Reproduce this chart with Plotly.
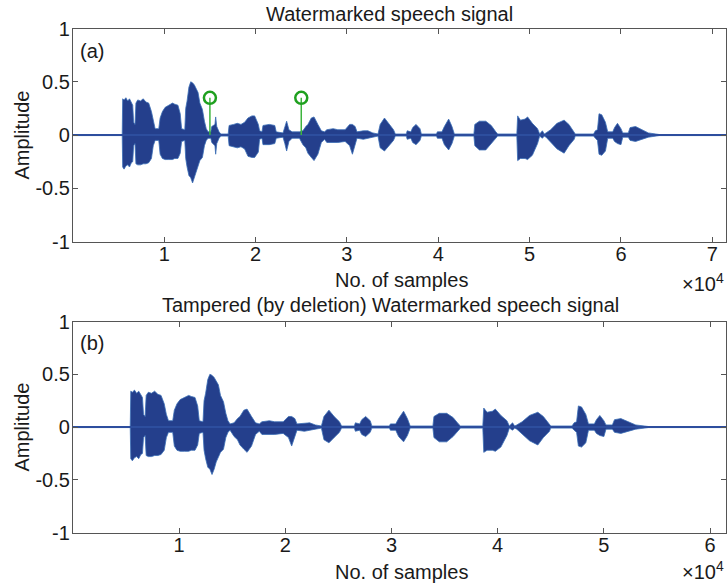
import plotly.graph_objects as go

# ---------------- data ----------------
# envelope of the watermarked speech signal (a): sample index, upper and lower amplitude
TOP_X = [0, 5400, 5450, 5600, 5800, 6000, 6200, 6400, 6550, 6650, 6800, 6900, 7100, 7400,
         7700, 8000, 8300, 8600, 8800, 9000, 9400, 9550, 9800, 10100, 10500, 10900, 11150,
         11500, 11750, 11900, 12250, 12350, 12500, 12700, 12900, 13100, 13300, 13500, 13700,
         13900, 14180, 14400, 14600, 14800, 15100, 15200, 15550, 15630, 15750, 16000, 16200,
         17000, 17100, 17600, 18000, 18400, 18800, 19170, 19600, 19900, 20300, 20440, 20700,
         20810, 21500, 22100, 22260, 23000, 23200, 23400, 23650, 24000, 24800, 25180, 25500,
         25730, 26100, 26400, 26820, 27200, 27550, 27800, 28500, 29000, 29800, 30300, 30600,
         30900, 31100, 31800, 32300, 32830, 33400, 33640, 34110, 34600, 35100, 35300, 36500,
         36600, 37000, 37200, 37570, 38000, 38150, 39800, 39900, 40400, 40670, 41140, 41500,
         41760, 43900, 44000, 44500, 45200, 45800, 46300, 46500, 48600, 48690, 49000, 49500,
         49780, 50300, 50870, 51100, 51400, 51600, 51800, 52300, 53000, 53780, 54300, 54880,
         55000, 57000, 57200, 57430, 57600, 57900, 58300, 58550, 59100, 59300, 59620, 60000,
         60200, 60800, 61000, 61600, 62350, 63000, 64200, 71500]
TOP_UP = [0.005, 0.005, 0.34, 0.33, 0.35, 0.32, 0.34, 0.30, 0.28, 0.12, 0.10, 0.30, 0.33, 0.32,
          0.34, 0.31, 0.30, 0.22, 0.12, 0.06, 0.06, 0.16, 0.22, 0.26, 0.28, 0.30, 0.29,
          0.28, 0.20, 0.06, 0.05, 0.25, 0.32, 0.45, 0.50, 0.49, 0.47, 0.44, 0.40,
          0.30, 0.24, 0.13, 0.06, 0.03, 0.03, 0.08, 0.10, 0.17, 0.08, 0.03, 0.01,
          0.01, 0.09, 0.10, 0.11, 0.10, 0.12, 0.16, 0.18, 0.18, 0.10, 0.04, 0.03,
          0.09, 0.10, 0.09, 0.03, 0.02, 0.08, 0.13, 0.05, 0.03, 0.03, 0.04, 0.08,
          0.10, 0.16, 0.17, 0.10, 0.04, 0.03, 0.05, 0.06, 0.05, 0.05, 0.10, 0.10,
          0.08, 0.03, 0.04, 0.04, 0.02, 0.01, 0.10, 0.16, 0.10, 0.05, 0.01, 0.01,
          0.04, 0.03, 0.07, 0.10, 0.06, 0.01, 0.01, 0.03, 0.03, 0.08, 0.15, 0.08,
          0.01, 0.01, 0.10, 0.13, 0.13, 0.09, 0.03, 0.01, 0.01, 0.18, 0.14, 0.15,
          0.17, 0.11, 0.06, 0.01, 0.04, 0.01, 0.02, 0.05, 0.11, 0.14, 0.10, 0.02,
          0.01, 0.01, 0.04, 0.05, 0.20, 0.19, 0.12, 0.03, 0.03, 0.07, 0.11, 0.06,
          0.02, 0.02, 0.07, 0.08, 0.05, 0.02, 0.005, 0.005]
TOP_LO = [-0.005, -0.005, -0.30, -0.32, -0.29, -0.28, -0.30, -0.26, -0.25, -0.10, -0.08, -0.27, -0.28, -0.28,
          -0.27, -0.27, -0.26, -0.22, -0.10, -0.05, -0.05, -0.18, -0.22, -0.23, -0.23, -0.23, -0.22,
          -0.22, -0.17, -0.06, -0.05, -0.22, -0.30, -0.38, -0.40, -0.45, -0.40, -0.33, -0.29,
          -0.24, -0.21, -0.10, -0.05, -0.03, -0.03, -0.07, -0.10, -0.18, -0.08, -0.03, -0.01,
          -0.01, -0.10, -0.11, -0.12, -0.11, -0.13, -0.20, -0.21, -0.21, -0.16, -0.04, -0.03,
          -0.09, -0.09, -0.08, -0.03, -0.02, -0.08, -0.15, -0.06, -0.03, -0.03, -0.09, -0.12,
          -0.17, -0.21, -0.24, -0.18, -0.07, -0.04, -0.07, -0.07, -0.07, -0.06, -0.10, -0.18,
          -0.10, -0.03, -0.04, -0.03, -0.02, -0.01, -0.12, -0.15, -0.10, -0.05, -0.01, -0.01,
          -0.04, -0.03, -0.07, -0.09, -0.05, -0.01, -0.01, -0.03, -0.03, -0.09, -0.14, -0.08,
          -0.01, -0.01, -0.10, -0.14, -0.14, -0.09, -0.03, -0.01, -0.01, -0.24, -0.22, -0.22,
          -0.23, -0.19, -0.08, -0.01, -0.03, -0.01, -0.02, -0.06, -0.13, -0.17, -0.10, -0.04,
          -0.01, -0.01, -0.03, -0.05, -0.18, -0.19, -0.15, -0.03, -0.03, -0.06, -0.08, -0.09,
          -0.02, -0.02, -0.05, -0.06, -0.04, -0.02, -0.005, -0.005]

# watermark positions marked in (a)
MARK_X = [15000, 25000]
MARK_Y = [0.35, 0.35]

# tampering: samples between the two marks were deleted
DEL_START, DEL_END = 15000, 25000

TOP_XMAX = 71500
BOT_XMAX = 61500

X_TICKVALS = [10000, 20000, 30000, 40000, 50000, 60000, 70000]
X_TICKTEXT = ["1", "2", "3", "4", "5", "6", "7"]
Y_TICKVALS = [-1, -0.5, 0, 0.5, 1]
Y_TICKTEXT = ["-1", "-0.5", "0", "0.5", "1"]

TITLE_A = "Watermarked speech signal"
TITLE_B = "Tampered (by deletion) Watermarked speech signal"
XLABEL = "No. of samples"
YLABEL = "Amplitude"

# bottom signal = top signal with the marked segment removed
BOT_X, BOT_UP, BOT_LO = [], [], []
for x, u, l in zip(TOP_X, TOP_UP, TOP_LO):
    if x < DEL_START:
        BOT_X.append(x); BOT_UP.append(u); BOT_LO.append(l)
    elif x >= DEL_END:
        BOT_X.append(x - (DEL_END - DEL_START)); BOT_UP.append(u); BOT_LO.append(l)

# ---------------- figure ----------------
W, H = 727, 584
# vertical placement: the rendered paper spans ~562 px starting ~11.5 px from the top
PAPER_TOP, PAPER_H = 11.45, 562.0

def py(y_px):
    return 1 - (y_px - PAPER_TOP) / PAPER_H

def px(x_px):
    return (x_px + 1) / W

FONT = "Liberation Sans, Arial, sans-serif"
TXT = "#1a1a1a"
FILL = "#243F8C"
EDGE = "#3A6DB5"
BASE = "#2D4E9E"
GREEN = "#1FA01F"
FS = 20

fig = go.Figure()

def add_wave(xs, up, lo, xa, ya, xmax):
    fig.add_trace(go.Scatter(
        x=list(xs) + list(xs[::-1]), y=list(up) + list(lo[::-1]),
        fill="toself", fillcolor=FILL, mode="lines",
        line=dict(color=EDGE, width=0.8), xaxis=xa, yaxis=ya,
        showlegend=False, hoverinfo="skip"))
    fig.add_trace(go.Scatter(
        x=[0, xmax], y=[0, 0], mode="lines", line=dict(color=BASE, width=2),
        xaxis=xa, yaxis=ya, showlegend=False, hoverinfo="skip"))

add_wave(TOP_X, TOP_UP, TOP_LO, "x", "y", TOP_XMAX)
add_wave(BOT_X, BOT_UP, BOT_LO, "x2", "y2", BOT_XMAX)

# stems + circles
sx, sy = [], []
for mx, my in zip(MARK_X, MARK_Y):
    sx += [mx, mx, None]
    sy += [0, my, None]
fig.add_trace(go.Scatter(x=sx, y=sy, mode="lines", line=dict(color="#3DB43D", width=1.5),
                         xaxis="x", yaxis="y", showlegend=False, hoverinfo="skip"))
fig.add_trace(go.Scatter(x=MARK_X, y=MARK_Y, mode="markers",
                         marker=dict(symbol="circle-open", size=12, color=GREEN,
                                     line=dict(width=2.5, color=GREEN)),
                         xaxis="x", yaxis="y", showlegend=False, hoverinfo="skip"))

XL, XR = 73 / W, 1.0
top_dom = [py(242), py(29)]
bot_dom = [py(533), py(322)]

ax_common = dict(showline=True, linecolor="#555555", linewidth=1, mirror="ticks",
                 ticks="inside", ticklen=5, tickcolor="#555555", showgrid=False,
                 zeroline=False, tickfont=dict(family=FONT, size=FS, color=TXT))

fig.update_layout(
    width=W, height=H, margin=dict(l=0, r=0, t=0, b=0),
    paper_bgcolor="white", plot_bgcolor="white", showlegend=False,
    xaxis=dict(domain=[XL, XR], range=[0, TOP_XMAX], anchor="y",
               tickvals=X_TICKVALS, ticktext=X_TICKTEXT, ticklabelstandoff=-6, **ax_common),
    yaxis=dict(domain=top_dom, range=[-1, 1], anchor="x",
               tickvals=Y_TICKVALS, ticktext=Y_TICKTEXT, ticklabelstandoff=-2, **ax_common),
    xaxis2=dict(domain=[XL, XR], range=[0, BOT_XMAX], anchor="y2",
                tickvals=X_TICKVALS[:6], ticktext=X_TICKTEXT[:6], ticklabelstandoff=-6, **ax_common),
    yaxis2=dict(domain=bot_dom, range=[-1, 1], anchor="x2",
                tickvals=Y_TICKVALS, ticktext=Y_TICKTEXT, ticklabelstandoff=-2, **ax_common),
)

def ann(text, x_px, y_px, xanchor="center", size=FS, angle=0):
    fig.add_annotation(text=text, x=px(x_px), y=py(y_px), xref="paper", yref="paper",
                       xanchor=xanchor, yanchor="middle", showarrow=False, textangle=angle,
                       font=dict(family=FONT, size=size, color=TXT))

ann(TITLE_A, 389, 14)
ann(TITLE_B, 390, 305)
ann(XLABEL, 401, 280)
ann(XLABEL, 401, 572)
ann(YLABEL, 21, 135, angle=-90)
ann(YLABEL, 21, 427, angle=-90)
ann("(a)", 77, 51, xanchor="left")
ann("(b)", 77, 343, xanchor="left")
ann("×10<sup>4</sup>", 726, 283, xanchor="right")
ann("×10<sup>4</sup>", 726, 571, xanchor="right")

fig.write_html("out.html")
